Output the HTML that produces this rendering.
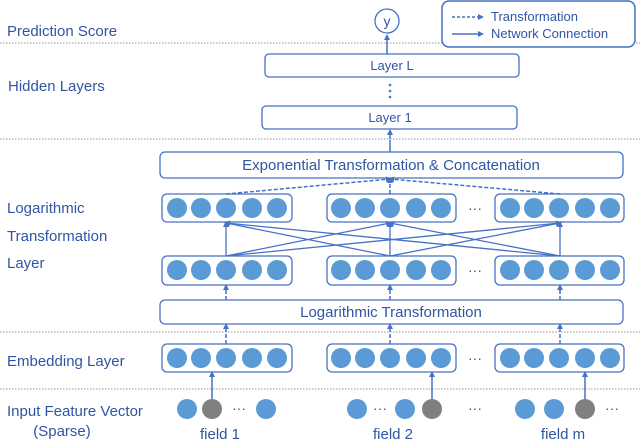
<!DOCTYPE html>
<html><head><meta charset="utf-8"><style>
html,body{margin:0;padding:0;background:#fff;}
svg{display:block;}
text{font-family:"Liberation Sans",sans-serif;fill:#2f55a4;}
</style></head><body>
<svg width="640" height="442" viewBox="0 0 640 442" xmlns="http://www.w3.org/2000/svg">
<defs>
<marker id="a" markerWidth="7" markerHeight="7" refX="4" refY="3.5" orient="auto" markerUnits="userSpaceOnUse"><path d="M0,0.5 L6,3.5 L0,6.5z" fill="#4472c4"/></marker>
<g id="c5"><circle cx="177" cy="0" r="10"/><circle cx="201" cy="0" r="10"/><circle cx="226" cy="0" r="10"/><circle cx="252" cy="0" r="10"/><circle cx="277" cy="0" r="10"/></g>
</defs>
<g stroke="#aaa" stroke-width="1.2" stroke-dasharray="1.5,1.5">
<line x1="0" y1="43" x2="640" y2="43"/><line x1="0" y1="139" x2="640" y2="139"/>
<line x1="0" y1="332" x2="640" y2="332"/><line x1="0" y1="389" x2="640" y2="389"/>
</g>
<g font-size="15">
<text x="7" y="36">Prediction Score</text>
<text x="8" y="91">Hidden Layers</text>
<text x="7" y="213">Logarithmic</text>
<text x="7" y="241">Transformation</text>
<text x="7" y="268">Layer</text>
<text x="7" y="366">Embedding Layer</text>
<text x="7" y="416">Input Feature Vector</text>
<text x="62" y="436" text-anchor="middle">(Sparse)</text>
</g>
<rect x="442" y="1" width="193" height="46" rx="7" fill="#fff" stroke="#4472c4" stroke-width="1.5"/>
<line x1="452" y1="17" x2="482" y2="17" stroke="#4472c4" stroke-width="1.5" stroke-dasharray="3,2" marker-end="url(#a)"/>
<line x1="452" y1="34" x2="482" y2="34" stroke="#4472c4" stroke-width="1.5" marker-end="url(#a)"/>
<text x="491" y="21" font-size="13">Transformation</text>
<text x="491" y="38" font-size="13">Network Connection</text>
<circle cx="387" cy="21" r="12" fill="#fff" stroke="#4472c4" stroke-width="1.3"/>
<text x="387" y="26" font-size="14" text-anchor="middle">y</text>
<line x1="387" y1="54" x2="387" y2="36" stroke="#4472c4" stroke-width="1.5" marker-end="url(#a)"/>
<g fill="#fff" stroke="#4472c4" stroke-width="1.3">
<rect x="265" y="54" width="254" height="23" rx="4"/>
<rect x="262" y="106" width="255" height="23" rx="4"/>
<rect x="160" y="152" width="463" height="26" rx="5"/>
<rect x="160" y="300" width="463" height="24" rx="5"/>
</g>
<text x="392" y="70" font-size="13" text-anchor="middle">Layer L</text>
<text x="390" y="122" font-size="13" text-anchor="middle">Layer 1</text>
<text x="391" y="170" font-size="15" text-anchor="middle">Exponential Transformation &amp; Concatenation</text>
<text x="391" y="317" font-size="15" text-anchor="middle">Logarithmic Transformation</text>
<g fill="#4472c4"><circle cx="390" cy="85" r="1.3"/><circle cx="390" cy="91" r="1.3"/><circle cx="390" cy="97" r="1.3"/></g>
<line x1="390" y1="139" x2="390" y2="131" stroke="#4472c4" stroke-width="1.5" marker-end="url(#a)"/>
<line x1="390" y1="152" x2="390" y2="140" stroke="#4472c4" stroke-width="1.5"/>
<g fill="#fff" stroke="#4472c4" stroke-width="1.3">
<rect x="162" y="194" width="130" height="28" rx="5"/><rect x="327" y="194" width="129" height="28" rx="5"/><rect x="495" y="194" width="129" height="28" rx="5"/>
<rect x="162" y="256" width="130" height="29" rx="5"/><rect x="327" y="256" width="129" height="29" rx="5"/><rect x="495" y="256" width="129" height="29" rx="5"/>
<rect x="162" y="344" width="130" height="28" rx="5"/><rect x="327" y="344" width="129" height="28" rx="5"/><rect x="495" y="344" width="129" height="28" rx="5"/>
</g>
<g fill="#5b9bd5">
<use href="#c5" transform="translate(0,208)"/><use href="#c5" transform="translate(164,208)"/><use href="#c5" transform="translate(333,208)"/>
<use href="#c5" transform="translate(0,270)"/><use href="#c5" transform="translate(164,270)"/><use href="#c5" transform="translate(333,270)"/>
<use href="#c5" transform="translate(0,358)"/><use href="#c5" transform="translate(164,358)"/><use href="#c5" transform="translate(333,358)"/>
</g>
<g font-size="14" text-anchor="middle">
<text x="475" y="213">···</text><text x="475" y="275">···</text><text x="475" y="363">···</text>
</g>
<g stroke="#4472c4" stroke-width="1.3" marker-end="url(#a)">
<line x1="226" y1="256" x2="226" y2="223"/><line x1="226" y1="256" x2="390" y2="223"/><line x1="226" y1="256" x2="560" y2="223"/>
<line x1="390" y1="256" x2="226" y2="223"/><line x1="390" y1="256" x2="390" y2="223"/><line x1="390" y1="256" x2="560" y2="223"/>
<line x1="560" y1="256" x2="226" y2="223"/><line x1="560" y1="256" x2="390" y2="223"/><line x1="560" y1="256" x2="560" y2="223"/>
</g>
<g stroke="#4472c4" stroke-width="1.5" stroke-dasharray="4,2" marker-end="url(#a)">
<line x1="226" y1="194" x2="390" y2="179"/><line x1="390" y1="194" x2="390" y2="179"/><line x1="560" y1="194" x2="390" y2="179"/>
<line x1="226" y1="300" x2="226" y2="286"/><line x1="390" y1="300" x2="390" y2="286"/><line x1="560" y1="300" x2="560" y2="286"/>
<line x1="226" y1="344" x2="226" y2="325"/><line x1="390" y1="344" x2="390" y2="325"/><line x1="560" y1="344" x2="560" y2="325"/>
</g>
<g stroke="#4472c4" stroke-width="1.5" marker-end="url(#a)">
<line x1="212" y1="399" x2="212" y2="373"/><line x1="432" y1="399" x2="432" y2="373"/><line x1="585" y1="399" x2="585" y2="373"/>
</g>
<g fill="#5b9bd5">
<circle cx="187" cy="409" r="10"/><circle cx="266" cy="409" r="10"/>
<circle cx="357" cy="409" r="10"/><circle cx="405" cy="409" r="10"/>
<circle cx="525" cy="409" r="10"/><circle cx="554" cy="409" r="10"/>
</g>
<g fill="#808080"><circle cx="212" cy="409" r="10"/><circle cx="432" cy="409" r="10"/><circle cx="585" cy="409" r="10"/></g>
<g font-size="14" text-anchor="middle">
<text x="239" y="413">···</text><text x="380" y="413">···</text><text x="475" y="413">···</text><text x="612" y="413">···</text>
</g>
<g font-size="15" text-anchor="middle">
<text x="220" y="439">field 1</text><text x="393" y="439">field 2</text><text x="563" y="439">field m</text>
</g>
</svg>
</body></html>
